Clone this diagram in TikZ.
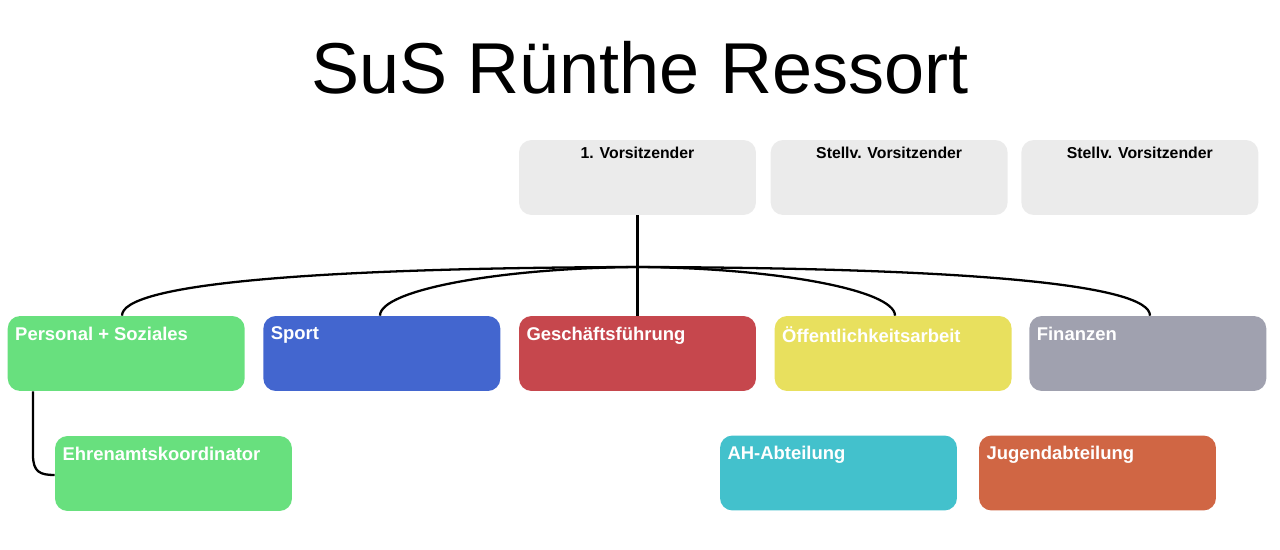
\documentclass[tikz,border=0pt]{standalone}
\usepackage{fontspec}
\setmainfont{Liberation Sans}
\usetikzlibrary{positioning}
\definecolor{boxGray}{HTML}{EBEBEB}
\definecolor{cGreen}{HTML}{68E07E}
\definecolor{cBlue}{HTML}{4366CF}
\definecolor{cRed}{HTML}{C6474D}
\definecolor{cYellow}{HTML}{E8E05E}
\definecolor{cSlate}{HTML}{A0A1AF}
\definecolor{cCyan}{HTML}{43C1CC}
\definecolor{cOrange}{HTML}{D06644}
\tikzset{
  recNode/.style={rectangle, minimum width=4.74cm, minimum height=1.5cm, rounded corners=0.25cm, draw=none, inner sep=0pt},
  recTop/.style={recNode, fill=boxGray, label={[anchor=north, inner sep=0pt, yshift=-0.14cm, font=\fontsize{9}{10}\selectfont\bfseries]north:#1}},
  recCol/.style 2 args={recNode, fill=#1, label={[anchor=north west, inner sep=0pt, xshift=0.15cm, yshift=-0.22cm, text=white, font=\fontsize{10.5}{12}\selectfont\bfseries]north west:#2}},
  link/.style={line width=1.3pt, draw=black}
}
\begin{document}
\begin{tikzpicture}[x=0.02cm, y=-0.02cm]
  \useasboundingbox (0,0) rectangle (1280,550);
  \node (title) at (640,68) {\fontsize{41}{48}\selectfont SuS Rünthe Ressort};

  \node (vors) [recTop={1. Vorsitzender}] at (637.5,177.5) {};
  \node (stv1) [recTop={Stellv. Vorsitzender}, right=0.28cm of vors] {};
  \node (stv2) [recTop={Stellv. Vorsitzender}, right=0.26cm of stv1] {};

  \node (gf) [recCol={cRed}{Geschäftsführung}] at (637.5,353.5) {};
  \node (sport) [recCol={cBlue}{Sport}, left=0.36cm of gf] {};
  \node (pers) [recCol={cGreen}{Personal + Soziales}, left=0.36cm of sport] {};
  \node (oeff) [recCol={cYellow}{Öffentlichkeitsarbeit}, right=0.36cm of gf] {};
  \node (fin) [recCol={cSlate}{Finanzen}, right=0.34cm of oeff] {};

  \node (ehren) [recCol={cGreen}{Ehrenamtskoordinator}] at (173.5,473.5) {};
  \node (ah) [recCol={cCyan}{AH-Abteilung}] at (838.5,473) {};
  \node (jugend) [recCol={cOrange}{Jugendabteilung}] at (1097.5,473) {};

  \coordinate (hub) at (638,267);
  \draw [link] (vors.south) -- (gf.north);
  \draw [link] (pers.north -| 122,0) .. controls (122,285) and (300,268) .. (hub);
  \draw [link] (sport.north -| 380,0) .. controls (380,290) and (500,268) .. (hub);
  \draw [link] (oeff.north -| 895,0) .. controls (895,290) and (775,268) .. (hub);
  \draw [link] (fin.north -| 1150,0) .. controls (1150,285) and (975,268) .. (hub);
  \draw [link] (pers.south -| 33,0) -- (33,455) .. controls (33,472) and (40,475) .. (ehren.west |- 0,475);
\end{tikzpicture}
\end{document}
